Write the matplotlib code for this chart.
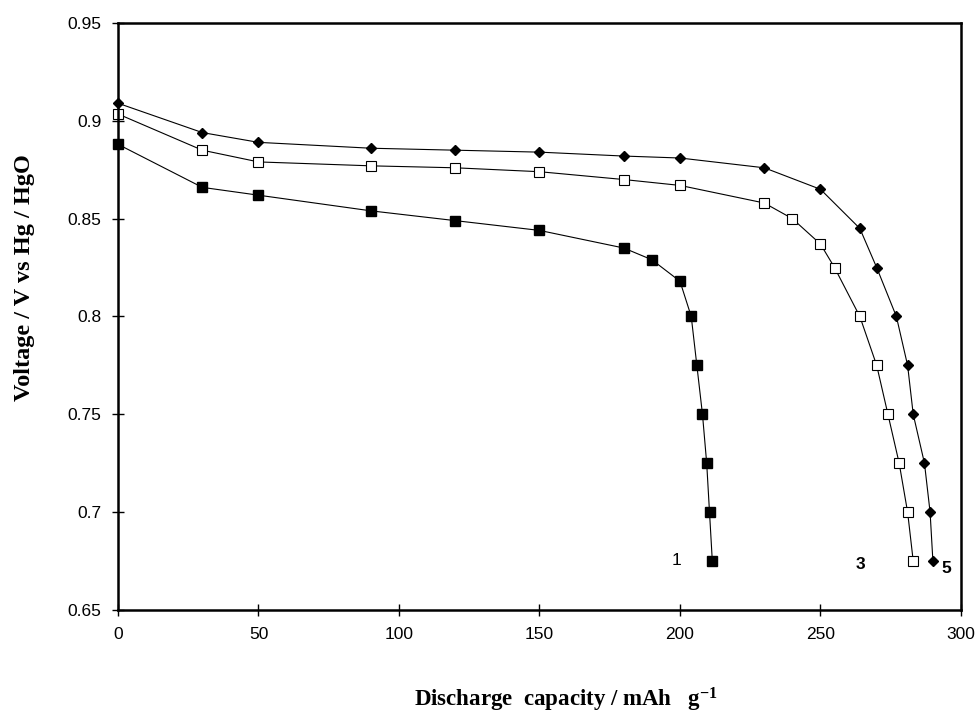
import matplotlib
matplotlib.use("Agg")
import matplotlib.pyplot as plt

plt.rcParams["mathtext.fontset"] = "custom"
plt.rcParams["mathtext.rm"] = "Liberation Serif:bold"
plt.rcParams["mathtext.bf"] = "Liberation Serif:bold"
plt.rcParams["mathtext.it"] = "Liberation Serif:bold"
plt.rcParams["mathtext.default"] = "bf"

# Data
cap1 = [0, 30, 50, 90, 120, 150, 180, 190, 200, 204, 206, 208, 209.5, 210.5, 211.5]
v1 = [0.888, 0.866, 0.862, 0.854, 0.849, 0.844, 0.835, 0.829, 0.818, 0.800, 0.775, 0.750, 0.725, 0.700, 0.675]

cap3 = [0, 30, 50, 90, 120, 150, 180, 200, 230, 240, 250, 255, 264, 270, 274, 278, 281, 283]
v3 = [0.9035, 0.885, 0.879, 0.877, 0.876, 0.874, 0.870, 0.867, 0.858, 0.850, 0.837, 0.825, 0.800, 0.775, 0.750, 0.725, 0.700, 0.675]

cap5 = [0, 30, 50, 90, 120, 150, 180, 200, 230, 250, 264, 270, 277, 281, 283, 287, 289, 290]
v5 = [0.909, 0.894, 0.889, 0.886, 0.885, 0.884, 0.882, 0.881, 0.876, 0.865, 0.845, 0.825, 0.800, 0.775, 0.750, 0.725, 0.700, 0.675]

xticks = [0, 50, 100, 150, 200, 250, 300]
yticks = [0.65, 0.7, 0.75, 0.8, 0.85, 0.9, 0.95]
ytick_labels = ["0.65", "0.7", "0.75", "0.8", "0.85", "0.9", "0.95"]

fig = plt.figure(figsize=(9.79, 7.14), dpi=100)
ax = fig.add_axes([118/979, 1-610/714, (961-118)/979, (610-23)/714])

ax.plot(cap1, v1, color="black", lw=0.8, marker="s", ms=6.5, mfc="black", mec="black", clip_on=False)
ax.plot(cap3, v3, color="black", lw=0.8, marker="s", ms=7.5, mfc="white", mec="black", mew=0.8, clip_on=False)
ax.plot(cap5, v5, color="black", lw=0.8, marker="D", ms=5.5, mfc="black", mec="black", clip_on=False)

ax.set_xlim(0, 300)
ax.set_ylim(0.65, 0.95)
ax.set_xticks(xticks)
ax.set_xticklabels([str(t) for t in xticks])
ax.set_yticks(yticks)
ax.set_yticklabels(ytick_labels)
ax.tick_params(direction="inout", length=8, width=1, labelsize=12.5, pad=8)
for lab in ax.get_xticklabels() + ax.get_yticklabels():
    lab.set_family("Liberation Sans")
for s in ax.spines.values():
    s.set_linewidth(1.8)

ax.text(198.6, 0.6755, "1", fontsize=12.5, family="Liberation Sans", ha="center", va="center")
ax.text(264.3, 0.673, "3", fontsize=12.5, family="Liberation Sans", fontweight="bold", ha="center", va="center")
ax.text(294.6, 0.6713, "5", fontsize=12.5, family="Liberation Sans", fontweight="bold", ha="center", va="center")

fig.text(566/979, 1-706/714, r"Discharge  capacity / mAh   g$^{-1}$", fontsize=16.5,
         family="Liberation Serif", fontweight="bold", ha="center", va="baseline")
fig.text(25/979, 1-278/714, "Voltage / V vs Hg / HgO", fontsize=17.5,
         family="Liberation Serif", fontweight="bold", ha="center", va="center", rotation=90)

fig.savefig("out.png", dpi=100)
